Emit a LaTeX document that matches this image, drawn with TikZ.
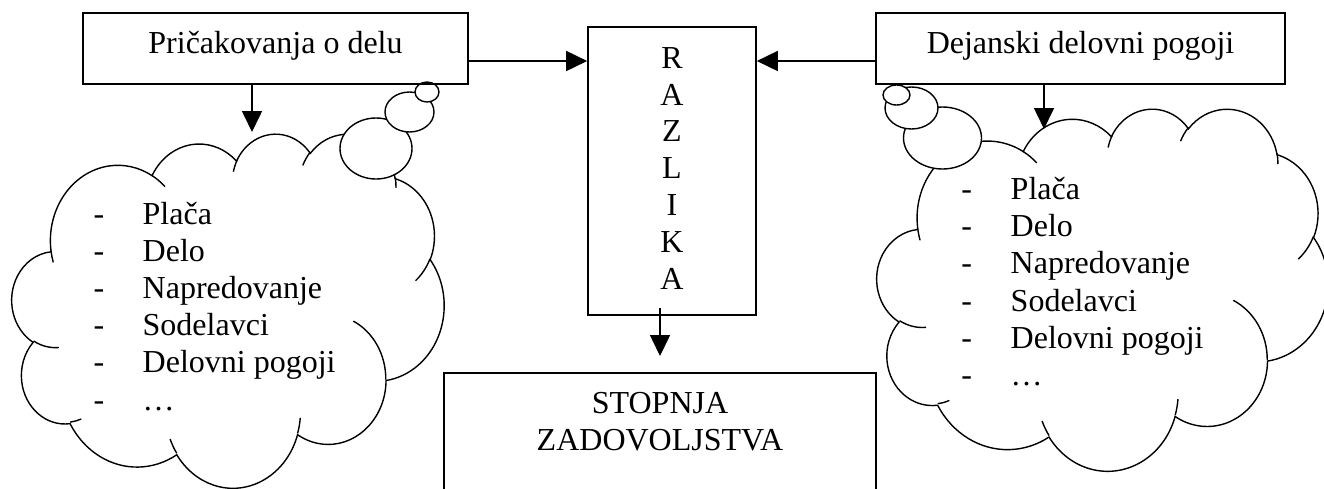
\documentclass[tikz,border=0pt]{standalone}
\usepackage{fontspec}
\setmainfont{Liberation Serif}
\usetikzlibrary{arrows.meta}

% OOXML-style arc: wR, hR, start (visual angle), sweep
\newcommand\cldarc[4]{arc[start angle={atan2((#1)*sin(#3),(#2)*cos(#3))}, delta angle={mod(atan2((#1)*sin((#3)+(#4)),(#2)*cos((#3)+(#4)))-atan2((#1)*sin(#3),(#2)*cos(#3))+720,360)}, x radius=#1pt, y radius=#2pt]}

\newcommand\drawcloud[4]{%
\begin{scope}[shift={(#1,#2)},xscale=#3,yscale=#4]
\path[cloudline, fill=white] (39,143.7)
 \cldarc{67.53}{91.90}{-190.487}{123.781}
 \cldarc{53.33}{72.67}{-144.102}{89.945}
 \cldarc{43.65}{59.45}{-145.808}{99.723}
 \cldarc{48.57}{65.95}{-130.986}{117.242}
 \cldarc{53.33}{72.73}{-78.709}{109.027}
 \cldarc{67.75}{92.20}{-46.267}{130.269}
 \cldarc{57.85}{78.67}{0.625}{114.033}
 \cldarc{67.52}{92.15}{22.452}{115.173}
 \cldarc{77.20}{105.43}{66.243}{75.711}
 \cldarc{43.60}{59.18}{-274.942}{146.736}
 \cldarc{43.45}{59.45}{-246.829}{152.519}
 -- cycle;
\path[cloudline] (46.93,261.77) \cldarc{43.45}{59.45}{86.742}{26.430}
 (69.28,348.99) \cldarc{43.60}{59.18}{73.611}{11.447}
 (164.78,390.90) \cldarc{67.52}{92.15}{137.624}{14.081}
 (288.27,347.51) \cldarc{67.52}{92.15}{6.453}{15.998}
 (341.29,229.54) \cldarc{57.85}{78.67}{-70.292}{70.917}
 (417.98,153.54) \cldarc{53.33}{72.73}{30.318}{27.752}
 (383.24,54.26) \cldarc{48.57}{65.95}{-13.744}{14.859}
 (290.78,39.52) \cldarc{48.57}{65.95}{-149.181}{18.195}
 (221.41,47.20) \cldarc{43.65}{59.45}{-163.494}{17.686}
 (140.00,51.92) \cldarc{67.53}{91.90}{-66.707}{12.319}
 (41.27,157.89) \cldarc{67.53}{91.90}{157.654}{11.858};
\end{scope}}

\begin{document}
\begin{tikzpicture}[x=1pt,y=1pt,yscale=-1,
  font=\fontsize{32}{37.2}\selectfont,
  box/.style={draw, line width=1.6pt, inner sep=0pt},
  arr/.style={line width=1.6pt, -{Triangle[length=21pt,width=20pt]}},
  cloudline/.style={draw, line width=1.4pt},
  bub/.style={draw, line width=1.4pt, fill=white},
  txt/.style={inner sep=0pt, anchor=base},
  ltxt/.style={inner sep=0pt, anchor=base west}]
\useasboundingbox (0,0) rectangle (1324,488);
\clip (0,0) rectangle (1324,488);

% clouds
\drawcloud{12}{133}{1}{0.81944}
\drawcloud{877}{108}{1.04398}{0.83796}

% thought bubbles (left)
\draw[bub] (376,148.5) ellipse [x radius=36pt, y radius=30.5pt];
\draw[bub] (409.5,112) ellipse [x radius=24.5pt, y radius=20pt];
\draw[bub] (427,92) ellipse [x radius=12pt, y radius=10pt];
% thought bubbles (right)
\draw[bub] (942.5,138) ellipse [x radius=39pt, y radius=31pt];
\draw[bub] (911.5,108) ellipse [x radius=26.5pt, y radius=21pt];
\draw[bub] (896.5,95) ellipse [x radius=13.5pt, y radius=10pt];

% boxes
\node[box, minimum width=385pt, minimum height=71pt, text height=20pt, text depth=10pt] (exp) at (275.5,48.5) {Pričakovanja o delu};
\node[box, minimum width=409pt, minimum height=71pt, text height=20pt, text depth=10pt] (act) at (1080.5,48.5) {Dejanski delovni pogoji};
\node[box, minimum width=168pt, minimum height=288pt] (raz) at (672,171) {};
\node[box, minimum width=432pt, minimum height=127pt] (sat) at (660,436.5) {};

\foreach \l [count=\i from 0] in {R,A,Z,L,I,K,A}
  \node[txt] (r\i) at (672,{68.3+36.8*\i}) {\l};
\node[txt] (s1) at (660,413.3) {STOPNJA};
\node[txt] (s2) at (660,450) {ZADOVOLJSTVA};

% cloud lists
\foreach \t [count=\k from 0] in {Plača,Delo,Napredovanje,Sodelavci,Delovni pogoji,…}{
  \node[txt] (ld\k) at (99,{224+37.2*\k}) {-};
  \node[ltxt] (lt\k) at (142.5,{224+37.2*\k}) {\t};
  \node[txt] (rd\k) at (966.8,{199.5+37.2*\k}) {-};
  \node[ltxt] (rt\k) at (1010.5,{199.5+37.2*\k}) {\t};
}

% connectors
\coordinate (hl) at (0,61);
\draw[arr] (exp.east |- hl) -- (raz.west |- hl);
\draw[arr] (act.west |- hl) -- (raz.east |- hl);
\coordinate (ltip) at (252,132);
\draw[arr] (exp.south -| ltip) -- (ltip);
\coordinate (rtip) at (1044,129);
\draw[arr] (act.south -| rtip) -- (rtip);
\coordinate (bs) at (660,308);
\coordinate (be) at (660,356);
\draw[arr] (bs) -- (be);
\end{tikzpicture}
\end{document}
